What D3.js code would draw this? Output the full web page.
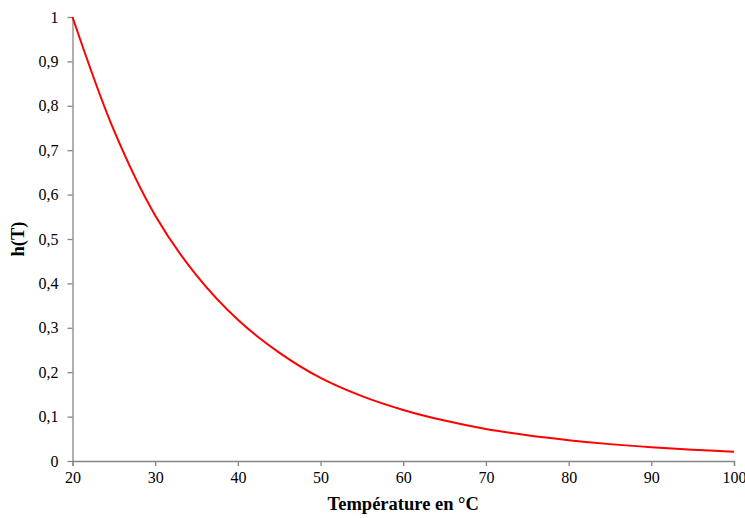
<!DOCTYPE html>
<html>
<head>
<meta charset="utf-8">
<script src="https://cdn.jsdelivr.net/npm/d3@7"></script>
<style>
  html, body { margin: 0; padding: 0; background: #ffffff; }
  svg { display: block; }
  svg text { font-family: "Liberation Serif", "Times New Roman", serif; }
</style>
</head>
<body>
<svg id="chart" width="745" height="518"></svg>
<script>
// Data
const temperatures = [20, 25, 30, 35, 40, 45, 50, 55, 60, 65, 70, 75, 80, 85, 90, 95, 100];
const hValues = [1, 0.745, 0.553, 0.418, 0.318, 0.244, 0.187, 0.146, 0.115, 0.091, 0.072, 0.058, 0.047, 0.038, 0.031, 0.0255, 0.021];
const xTicks = [20, 30, 40, 50, 60, 70, 80, 90, 100];
const yTicks = [0, 0.1, 0.2, 0.3, 0.4, 0.5, 0.6, 0.7, 0.8, 0.9, 1];
const xTitle = "Température en °C";
const yTitle = "h(T)";

const svg = d3.select("#chart");
const margin = { left: 72.5, right: 11, top: 17, bottom: 57 };
const W = 745, H = 518;

const x = d3.scaleLinear().domain([20, 100]).range([margin.left, W - margin.right]);
const y = d3.scaleLinear().domain([0, 1]).range([H - margin.bottom, margin.top]);

const fr = d3.formatLocale({ decimal: ",", thousands: " ", grouping: [3], currency: ["", "€"] });
const yFmt = v => (v === 0 || v === 1) ? String(v) : fr.format(".1f")(v);

const axisColor = "#868686";
const font = "'Liberation Serif', 'Times New Roman', serif";

// X axis
const gx = svg.append("g")
  .attr("transform", `translate(0,${y(0)})`)
  .call(d3.axisBottom(x).tickValues(xTicks).tickSize(5).tickPadding(6).tickFormat(d3.format("d")))
  .attr("font-family", font).attr("font-size", 16);
gx.select(".domain").attr("stroke", axisColor).attr("stroke-width", 1.3);
gx.selectAll(".tick line").attr("stroke", axisColor).attr("stroke-width", 1.3);
gx.selectAll(".tick text").attr("fill", "#000").style("font-family", font).style("font-size", "16px");

// Y axis
const gy = svg.append("g")
  .attr("transform", `translate(${x(20)},0)`)
  .call(d3.axisLeft(y).tickValues(yTicks).tickSize(5).tickSizeOuter(0).tickPadding(9).tickFormat(yFmt))
  .attr("font-family", font).attr("font-size", 16);
gy.select(".domain").attr("stroke", axisColor).attr("stroke-width", 1.3);
gy.selectAll(".tick line").attr("stroke", axisColor).attr("stroke-width", 1.3);
gy.selectAll(".tick text").attr("fill", "#000").style("font-family", font).style("font-size", "16px");

// Curve
const line = d3.line()
  .x((d, i) => x(temperatures[i]))
  .y(d => y(d))
  .curve(d3.curveCatmullRom.alpha(0.5));

svg.append("path")
  .datum(hValues)
  .attr("fill", "none")
  .attr("stroke", "#ff0000")
  .attr("stroke-width", 2)
  .attr("d", line);

// Axis titles
svg.append("text")
  .attr("x", (x(20) + x(100)) / 2)
  .attr("y", 510)
  .attr("text-anchor", "middle")
  .style("font-family", font)
  .style("font-weight", "bold")
  .style("font-size", "18.5px")
  .text(xTitle);

svg.append("text")
  .attr("transform", `translate(24,${(y(0) + y(1)) / 2}) rotate(-90)`)
  .attr("text-anchor", "middle")
  .style("font-family", font)
  .style("font-weight", "bold")
  .style("font-size", "18.5px")
  .text(yTitle);
</script>
</body>
</html>
